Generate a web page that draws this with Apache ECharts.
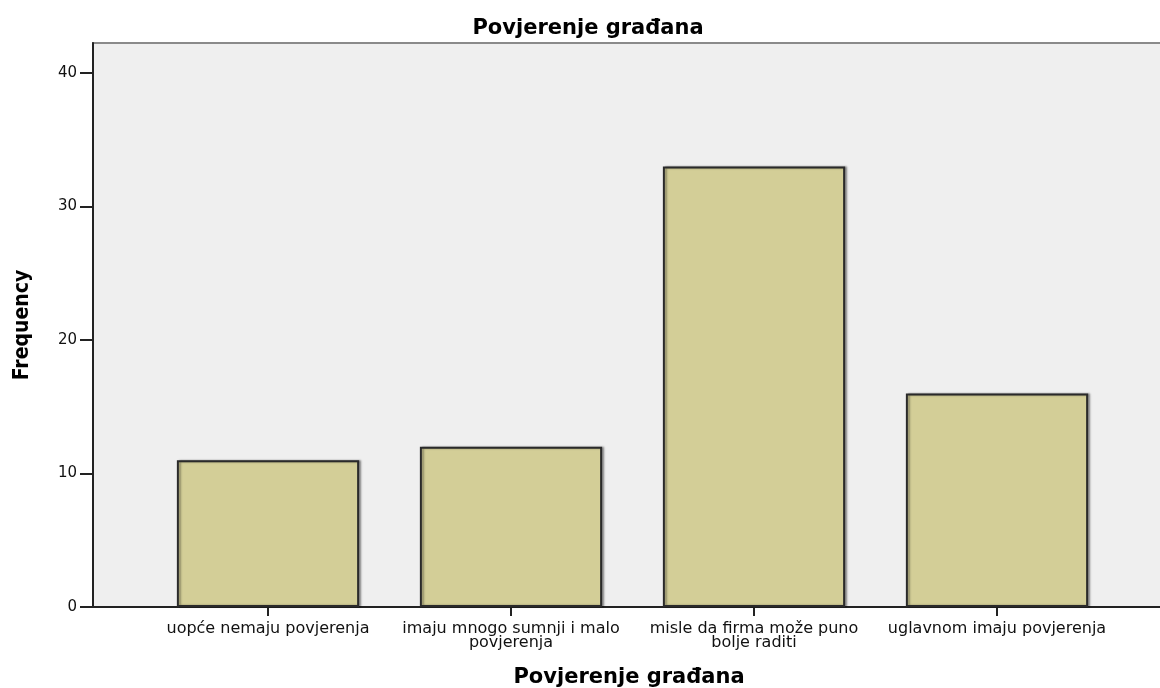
<!DOCTYPE html>
<html>
<head>
<meta charset="utf-8">
<script src="https://cdn.jsdelivr.net/npm/echarts@6/dist/echarts.min.js"></script>
<style>
  html, body { margin: 0; padding: 0; background: #fff; }
  #chart { width: 1160px; height: 688px; }
</style>
</head>
<body>
<div id="chart"></div>
<script>
// podaci
const categories = [
  'uopće nemaju povjerenja',
  'imaju mnogo sumnji i malo\npovjerenja',
  'misle da firma može puno\nbolje raditi',
  'uglavnom imaju povjerenja'
]
const frequencies = [11, 12, 33, 16]
const yTicks = [0, 10, 20, 30, 40]

const yMin = yTicks[0]
const yStep = yTicks[1] - yTicks[0]
const yMax = 42.25

const textFont = 'DejaVu Sans'

const myChart = echarts.init(document.getElementById('chart'))

const option = {
  backgroundColor: '#ffffff',
  animation: false,
  title: {
    text: 'Povjerenje građana',
    left: 583,
    textAlign: 'center',
    top: 13,
    textStyle: {
      fontFamily: textFont,
      fontWeight: 'bold',
      fontSize: 21,
      color: '#000'
    }
  },
  grid: [
    // siva pozadina, okvir
    {
      left: 93, right: -5, top: 43, bottom: 81,
      outerBoundsMode: 'none',
      show: true,
      backgroundColor: '#efefef',
      borderColor: '#8a8a8a',
      borderWidth: 2
    },
    // stupci
    {
      left: 146.5, right: 41.5, top: 43, bottom: 81,
      outerBoundsMode: 'none'
    }
  ],
  xAxis: [
    {
      gridIndex: 0,
      type: 'value',
      min: 0, max: 1,
      splitLine: { show: false },
      axisTick: { show: false },
      axisLabel: { show: false },
      axisLine: { show: true, lineStyle: { color: '#222', width: 2 } },
      name: 'Povjerenje građana',
      nameLocation: 'middle',
      nameGap: 60,
      nameTextStyle: {
        fontFamily: textFont,
        fontWeight: 'bold',
        fontSize: 21,
        color: '#000'
      }
    },
    {
      gridIndex: 1,
      type: 'category',
      data: categories,
      axisLine: { show: false },
      axisTick: {
        show: true,
        alignWithLabel: true,
        interval: 0,
        length: 9,
        lineStyle: { color: '#222', width: 2 }
      },
      axisLabel: {
        interval: 0,
        margin: 15,
        fontFamily: textFont,
        fontSize: 16,
        lineHeight: 14,
        color: '#111'
      }
    }
  ],
  yAxis: [
    {
      gridIndex: 0,
      type: 'value',
      min: yMin,
      max: yMax,
      interval: yStep,
      splitLine: { show: false },
      axisLine: { show: true, lineStyle: { color: '#222', width: 2 } },
      axisTick: { show: true, length: 13, lineStyle: { color: '#222', width: 2 } },
      axisLabel: {
        margin: 16,
        fontFamily: textFont,
        fontSize: 15,
        color: '#111',
        showMaxLabel: false,
        formatter: v => (yTicks.includes(v) ? String(v) : '')
      },
      name: 'Frequency',
      nameLocation: 'middle',
      nameGap: 60,
      nameRotate: 90,
      nameTextStyle: {
        fontFamily: '"DejaVu Sans Condensed", "Liberation Sans", sans-serif',
        fontWeight: 'bold',
        fontSize: 21,
        color: '#000'
      }
    },
    {
      gridIndex: 1,
      type: 'value',
      min: yMin,
      max: yMax,
      show: false
    }
  ],
  series: [
    {
      type: 'bar',
      xAxisIndex: 1,
      yAxisIndex: 1,
      data: frequencies,
      barWidth: '75%',
      itemStyle: {
        color: '#d3ce97',
        borderColor: '#2a2a2a',
        borderWidth: 2,
        shadowColor: 'rgba(0,0,0,0.35)',
        shadowBlur: 2,
        shadowOffsetX: 2,
        shadowOffsetY: 0
      }
    }
  ]
}

myChart.setOption(option)
window.addEventListener('resize', myChart.resize)
</script>
</body>
</html>
